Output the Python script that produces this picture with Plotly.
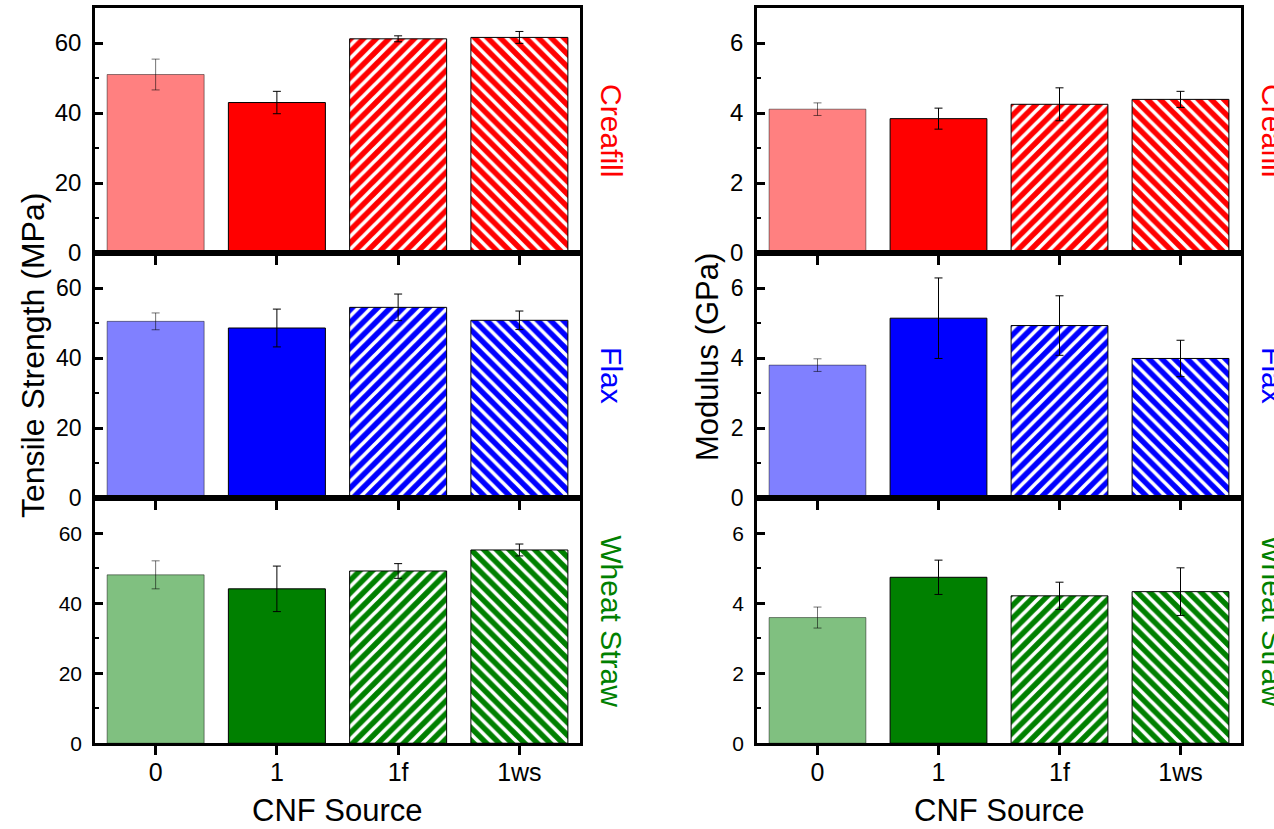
import plotly.graph_objects as go

W, H = 1274, 829

categories = ["0", "1", "1f", "1ws"]
sources = ["Creafill", "Flax", "Wheat Straw"]

# Tensile strength (MPa)
ts_creafill = [51.0, 43.0, 61.2, 61.6]
ts_creafill_err = [4.4, 3.2, 0.85, 1.7]
ts_flax = [50.5, 48.6, 54.5, 50.8]
ts_flax_err = [2.4, 5.4, 3.8, 2.65]
ts_wheat = [48.1, 44.1, 49.2, 55.2]
ts_wheat_err = [4.0, 6.5, 2.1, 1.7]

# Modulus (GPa)
mod_creafill = [4.11, 3.84, 4.25, 4.39]
mod_creafill_err = [0.18, 0.30, 0.47, 0.23]
mod_flax = [3.80, 5.14, 4.93, 3.99]
mod_flax_err = [0.18, 1.15, 0.85, 0.52]
mod_wheat = [3.59, 4.74, 4.21, 4.33]
mod_wheat_err = [0.30, 0.49, 0.39, 0.68]

colors = {"Creafill": "#FF0000", "Flax": "#0000FF", "Wheat Straw": "#008000"}
light = {"Creafill": "#FF8080", "Flax": "#8080FF", "Wheat Straw": "#80C080"}
patterns = ["", "", "/", "\\"]

ts_data = [(ts_creafill, ts_creafill_err), (ts_flax, ts_flax_err), (ts_wheat, ts_wheat_err)]
mod_data = [(mod_creafill, mod_creafill_err), (mod_flax, mod_flax_err), (mod_wheat, mod_wheat_err)]

# layout geometry (pixels, as seen in the target picture)
SY = 0.984  # observed vertical rendering factor
left_x = (95, 580)
right_x = (757, 1241)
rows_px = [(8, 253), (253, 498), (498, 743)]

def xd(a, b):
    return [a / W, b / W]

def ypap(y):
    return (H - y / SY) / H

def yd(top, bot):
    return [ypap(bot), ypap(top)]

fig = go.Figure()
layout = {}
ax_i = 0
tick_sizes = [24, 23, 21]
font = "Liberation Sans, Arial"

for col, (data, xr, ymax, tickvals, dminor) in enumerate([
        (ts_data, left_x, 70, [0, 20, 40, 60], 10),
        (mod_data, right_x, 7, [0, 2, 4, 6], 1)]):
    for r, src in enumerate(sources):
        ax_i += 1
        xa = "x" if ax_i == 1 else f"x{ax_i}"
        ya = "y" if ax_i == 1 else f"y{ax_i}"
        vals, errs = data[r]
        for i, cat in enumerate(categories):
            if i == 0:
                fill = light[src]
                line_c = "rgba(0,0,0,0.45)"
                err_c = "rgba(0,0,0,0.55)"
                pat = dict(shape="")
            else:
                fill = colors[src]
                line_c = "black"
                err_c = "black"
                if patterns[i]:
                    pat = dict(shape=patterns[i], fillmode="replace",
                               bgcolor=colors[src], fgcolor="white",
                               size=9, solidity=0.4)
                else:
                    pat = dict(shape="")
            fig.add_trace(go.Bar(
                x=[cat], y=[vals[i]], width=0.8,
                marker=dict(color=fill, line=dict(color=line_c, width=1), pattern=pat),
                error_y=dict(type="data", array=[errs[i]], color=err_c,
                             thickness=1, width=4),
                xaxis=xa, yaxis=ya, showlegend=False))
        layout["xaxis" if ax_i == 1 else f"xaxis{ax_i}"] = dict(
            domain=xd(*xr), anchor=ya, type="category",
            categoryorder="array", categoryarray=categories,
            range=[-0.5, 3.5], showgrid=False, zeroline=False,
            showline=True, linewidth=2.5, linecolor="black", mirror=True,
            ticks="outside", ticklen=9, tickwidth=2.5, tickcolor="black",
            showticklabels=(r == 2), ticklabelstandoff=-4,
            tickfont=dict(family=font, size=25, color="black"),
        )
        layout["yaxis" if ax_i == 1 else f"yaxis{ax_i}"] = dict(
            domain=yd(*rows_px[r]), anchor=xa, range=[0, ymax],
            tickvals=tickvals, showgrid=False, zeroline=False,
            showline=True, linewidth=2.5, linecolor="black", mirror=True,
            ticks="inside", ticklen=8, tickwidth=2.5, tickcolor="black",
            minor=dict(dtick=dminor, ticks="inside", ticklen=4, tickwidth=2, tickcolor="black"),
            ticklabelstandoff=6,
            tickfont=dict(family=font, size=tick_sizes[r], color="black"),
        )

annotations = []
annotations.append(dict(text="Tensile Strength (MPa)", x=33 / W, y=ypap(356),
                        xref="paper", yref="paper", textangle=-90, showarrow=False,
                        xanchor="center", yanchor="middle",
                        font=dict(family=font, size=32, color="black")))
annotations.append(dict(text="Modulus (GPa)", x=707 / W, y=ypap(357),
                        xref="paper", yref="paper", textangle=-90, showarrow=False,
                        xanchor="center", yanchor="middle",
                        font=dict(family=font, size=31, color="black")))
for cx in [(left_x[0] + left_x[1]) / 2, (right_x[0] + right_x[1]) / 2]:
    annotations.append(dict(text="CNF Source", x=cx / W, y=ypap(810),
                            xref="paper", yref="paper", showarrow=False,
                            xanchor="center", yanchor="middle",
                            font=dict(family=font, size=31, color="black")))
for r, src in enumerate(sources):
    cy = (rows_px[r][0] + rows_px[r][1]) / 2
    for xr in [left_x, right_x]:
        annotations.append(dict(text=src, x=(xr[1] + 13) / W, y=ypap(cy),
                                xref="paper", yref="paper", textangle=90, showarrow=False,
                                xanchor="left", yanchor="middle",
                                font=dict(family=font, size=30, color=colors[src])))

fig.update_layout(
    width=W, height=H, margin=dict(l=0, r=0, t=0, b=0),
    paper_bgcolor="white", plot_bgcolor="white",
    showlegend=False, bargap=0.2, annotations=annotations,
    **layout)

fig.write_html("out.html")
